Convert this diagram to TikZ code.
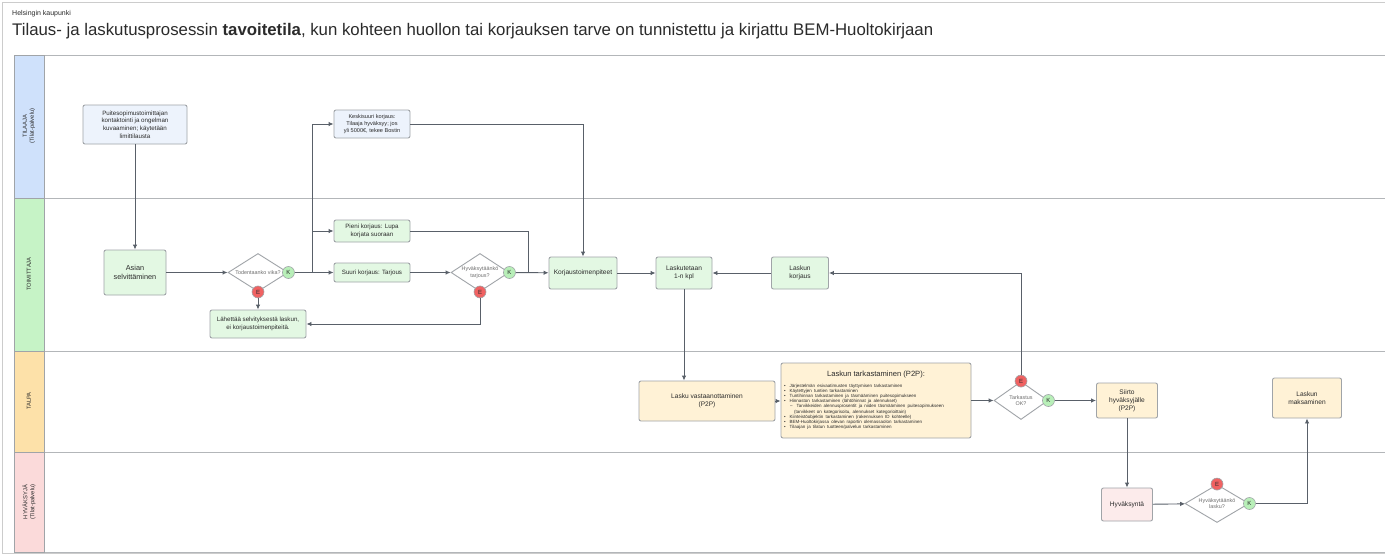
\documentclass[tikz,border=0pt]{standalone}
\usepackage{fontspec}
\setmainfont{Liberation Sans}
\usetikzlibrary{shapes.geometric,arrows.meta,calc}
\definecolor{linec}{HTML}{596069}
\definecolor{bordc}{HTML}{A0A4A8}
\definecolor{laneblue}{HTML}{CFE1FB}
\definecolor{nodeblue}{HTML}{EDF3FC}
\definecolor{lanegreen}{HTML}{C6F3C6}
\definecolor{nodegreen}{HTML}{E3F8E3}
\definecolor{laneorange}{HTML}{FDE1A9}
\definecolor{nodeorange}{HTML}{FFF2D6}
\definecolor{lanepink}{HTML}{FBDADA}
\definecolor{nodepink}{HTML}{FCEBEB}
\definecolor{efill}{HTML}{F06262}
\definecolor{kfill}{HTML}{B8EFB8}
\definecolor{txt}{HTML}{2B2B2B}
\tikzset{
  box/.style={rectangle, rounded corners=2pt, draw=bordc, line width=0.9pt, align=center, inner sep=1pt, text=txt, font=\fontsize{6.2}{7.6}\selectfont},
  bbox/.style={box, fill=nodeblue},
  gbox/.style={box, fill=nodegreen},
  obox/.style={box, fill=nodeorange},
  pbox/.style={box, fill=nodepink},
  dia/.style={diamond, draw=bordc, line width=0.9pt, fill=white, inner sep=0pt, minimum width=#1, minimum height=38pt},
  dtext/.style={text=gray!85!black, font=\fontsize{5.4}{6.6}\selectfont, align=center},
  ecirc/.style={circle, draw=bordc, fill=efill, line width=0.6pt, minimum size=12pt, inner sep=0pt, font=\fontsize{6}{6}\selectfont, text=txt},
  kcirc/.style={circle, draw=bordc, fill=kfill, line width=0.6pt, minimum size=12pt, inner sep=0pt, font=\fontsize{6}{6}\selectfont, text=txt},
  conn/.style={draw=linec, line width=0.9pt},
  arr/.style={conn, -{Latex[length=5pt,width=4.5pt]}},
  lanehead/.style={draw=bordc, line width=0.8pt},
  lanebody/.style={draw=bordc!80, line width=0.8pt},
  lanetext/.style={rotate=90, font=\fontsize{5.8}{7}\selectfont, align=center, text=txt},
}
\begin{document}
\begin{tikzpicture}[x=1pt,y=-1pt]
\useasboundingbox (0,0) rectangle (1385,555);
\fill[white] (0,0) rectangle (1385,555);
\draw[draw=gray!40, line width=0.8pt] (2,2) rectangle (1390,553);
% titles
\node[anchor=west, inner sep=0pt, font=\fontsize{7}{8}\selectfont, text=txt] (org) at (12,14) {Helsingin kaupunki};
\node[anchor=west, inner sep=0pt, font=\fontsize{16.8}{19}\selectfont, text=txt] (title) at (12,31) {Tilaus- ja laskutusprosessin \textbf{tavoitetila}, kun kohteen huollon tai korjauksen tarve on tunnistettu ja kirjattu BEM-Huoltokirjaan};
% lanes
\draw[lanebody] (44,55) rectangle (1390,198);
\draw[lanebody] (44,198) rectangle (1390,351);
\draw[lanebody] (44,351) rectangle (1390,452);
\draw[lanebody] (44,452) rectangle (1390,552);
\filldraw[lanehead, fill=laneblue] (14,55) rectangle (44,198);
\filldraw[lanehead, fill=lanegreen] (14,198) rectangle (44,351);
\filldraw[lanehead, fill=laneorange] (14,351) rectangle (44,452);
\filldraw[lanehead, fill=lanepink] (14,452) rectangle (44,552);
\node[lanetext] (l1) at (29,126) {TILAAJA\\(Tilat-palvelu)};
\node[lanetext] (l2) at (29,274) {TOIMITTAJA};
\node[lanetext] (l3) at (29,401) {TALPA};
\node[lanetext] (l4) at (29,502) {HYVÄKSYJÄ\\(Tilat-palvelu)};
% TILAAJA
\node[bbox, minimum width=104pt, minimum height=39pt] (puite) at (135,124.5) {Puitesopimustoimittajan\\kontaktointi ja ongelman\\kuvaaminen; käytetään\\limittilausta};
\node[bbox, minimum width=76pt, minimum height=28pt, font=\fontsize{5.6}{6.9}\selectfont] (kesk) at (372,124) {Keskisuuri korjaus:\\Tilaaja hyväksyy; jos\\yli 5000€, tekee Bostin};
% TOIMITTAJA
\node[gbox, minimum width=62pt, minimum height=45pt, font=\fontsize{7.3}{9}\selectfont] (asian) at (135,272.5) {Asian\\selvittäminen};
\node[dia=60pt, label={[dtext]center:Todentaanko vika?}] (d1) at (258,272.5) {};
\node[kcirc] (k1) at (d1.east) {K};
\node[ecirc] (e1) at (d1.south) {E};
\node[gbox, minimum width=76pt, minimum height=22pt] (pieni) at (372,231) {Pieni korjaus: Lupa\\korjata suoraan};
\node[gbox, minimum width=76pt, minimum height=19pt] (suuri) at (372,272.5) {Suuri korjaus: Tarjous};
\node[dia=58pt, label={[dtext]center:Hyväksytäänkö\\tarjous?}] (d2) at (480,272.5) {};
\node[kcirc] (k2) at (d2.east) {K};
\node[ecirc] (e2) at (d2.south) {E};
\node[gbox, minimum width=96pt, minimum height=28pt] (lah) at (258,324) {Lähettää selvityksestä laskun,\\ei korjaustoimenpiteitä.};
\node[gbox, minimum width=68pt, minimum height=32pt, font=\fontsize{6.6}{8}\selectfont] (korj) at (583,273) {Korjaustoimenpiteet};
\node[gbox, minimum width=56pt, minimum height=32pt, font=\fontsize{6.6}{8.4}\selectfont] (lask) at (684,273) {Laskutetaan\\1-n kpl};
\node[gbox, minimum width=57pt, minimum height=32pt, font=\fontsize{6.6}{8.4}\selectfont] (lkorj) at (800,273) {Laskun\\korjaus};
% TALPA
\node[obox, minimum width=136pt, minimum height=40pt, font=\fontsize{6.6}{8.4}\selectfont] (vast) at (707,401) {Lasku vastaanottaminen\\(P2P)};
\node[obox, minimum width=190pt, minimum height=75pt, text width=184pt, align=left, inner sep=3pt] (tark) at (876,400.5) {%
{\centering\fontsize{7.6}{9}\selectfont Laskun tarkastaminen (P2P):\par}\vspace{5pt}%
{\fontsize{4.5}{5.2}\selectfont
•\ \ Järjestelmän esivaatimusten täyttymisen tarkastaminen\\
•\ \ Käytettyjen tuntien tarkastaminen\\
•\ \ Tuntihinnan tarkastaminen ja täsmääminen puitesopimukseen\\
•\ \ Hinnaston tarkastaminen (lähtöhinnat ja alennukset)\\
\hspace*{6pt}–\ \ Tarvikkeiden alennusprosentit ja niiden täsmääminen puitesopimukseen\\
\hspace*{10pt}(tarvikkeet on kategorisoitu, alennukset kategorioittain)\\
•\ \ Kiinteistöobjektin tarkastaminen (rakennuksen ID kohteelle)\\
•\ \ BEM-Huoltokirjassa olevan raportin olemassaolon tarkastaminen\\
•\ \ Tilaajan ja tilatun tuotteen/palvelun tarkastaminen\par}};
\node[dia=54pt, label={[dtext]center:Tarkastus\\OK?}] (d3) at (1021,400.5) {};
\node[ecirc] (e3) at (d3.north) {E};
\node[kcirc] (k3) at (d3.east) {K};
\node[obox, minimum width=61pt, minimum height=35pt, font=\fontsize{6.6}{8.2}\selectfont] (siirto) at (1127,400.5) {Siirto\\hyväksyjälle\\(P2P)};
\node[obox, minimum width=69pt, minimum height=40pt, font=\fontsize{6.6}{8.2}\selectfont] (maks) at (1307,398) {Laskun\\maksaminen};
% HYVAKSYJA
\node[pbox, minimum width=51pt, minimum height=33pt, font=\fontsize{6.6}{8.2}\selectfont] (hyv) at (1127,504.5) {Hyväksyntä};
\node[dia=64pt, label={[dtext]center:Hyväksytäänkö\\lasku?}] (d4) at (1217,503.5) {};
\node[ecirc] (e4) at (d4.north) {E};
\node[kcirc] (k4) at (d4.east) {K};
% connectors
\coordinate (j1) at (312,272.5);
\coordinate (j2) at (528,272.5);
\draw[arr] (puite) -- (asian);
\draw[arr] (asian) -- (d1);
\draw[conn] (k1) -- (j1);
\draw[arr] (j1) -- (suuri);
\draw[arr] (j1) |- (pieni.west);
\draw[arr] (j1) |- (kesk.west);
\draw[arr] (e1) -- (lah);
\draw[arr] (suuri) -- (d2);
\draw[arr] (k2) -- (korj);
\draw[conn] (pieni.east) -| (j2);
\draw[arr] (e2) |- (lah.east);
\draw[arr] (kesk.east) -| (korj.north);
\draw[arr] (korj) -- (lask);
\draw[arr] (lkorj) -- (lask);
\draw[arr] (lask.south) -- (lask.south |- vast.north);
\draw[arr] (vast.east) -- (vast.east -| tark.west);
\draw[arr] (tark.east) -- (d3.west);
\draw[arr] (e3) |- (lkorj.east);
\draw[arr] (k3) -- (k3 -| siirto.west);
\draw[arr] (siirto) -- (hyv);
\draw[arr] (hyv) -- (d4);
\draw[arr] (k4) -| (maks.south);
\end{tikzpicture}
\end{document}
